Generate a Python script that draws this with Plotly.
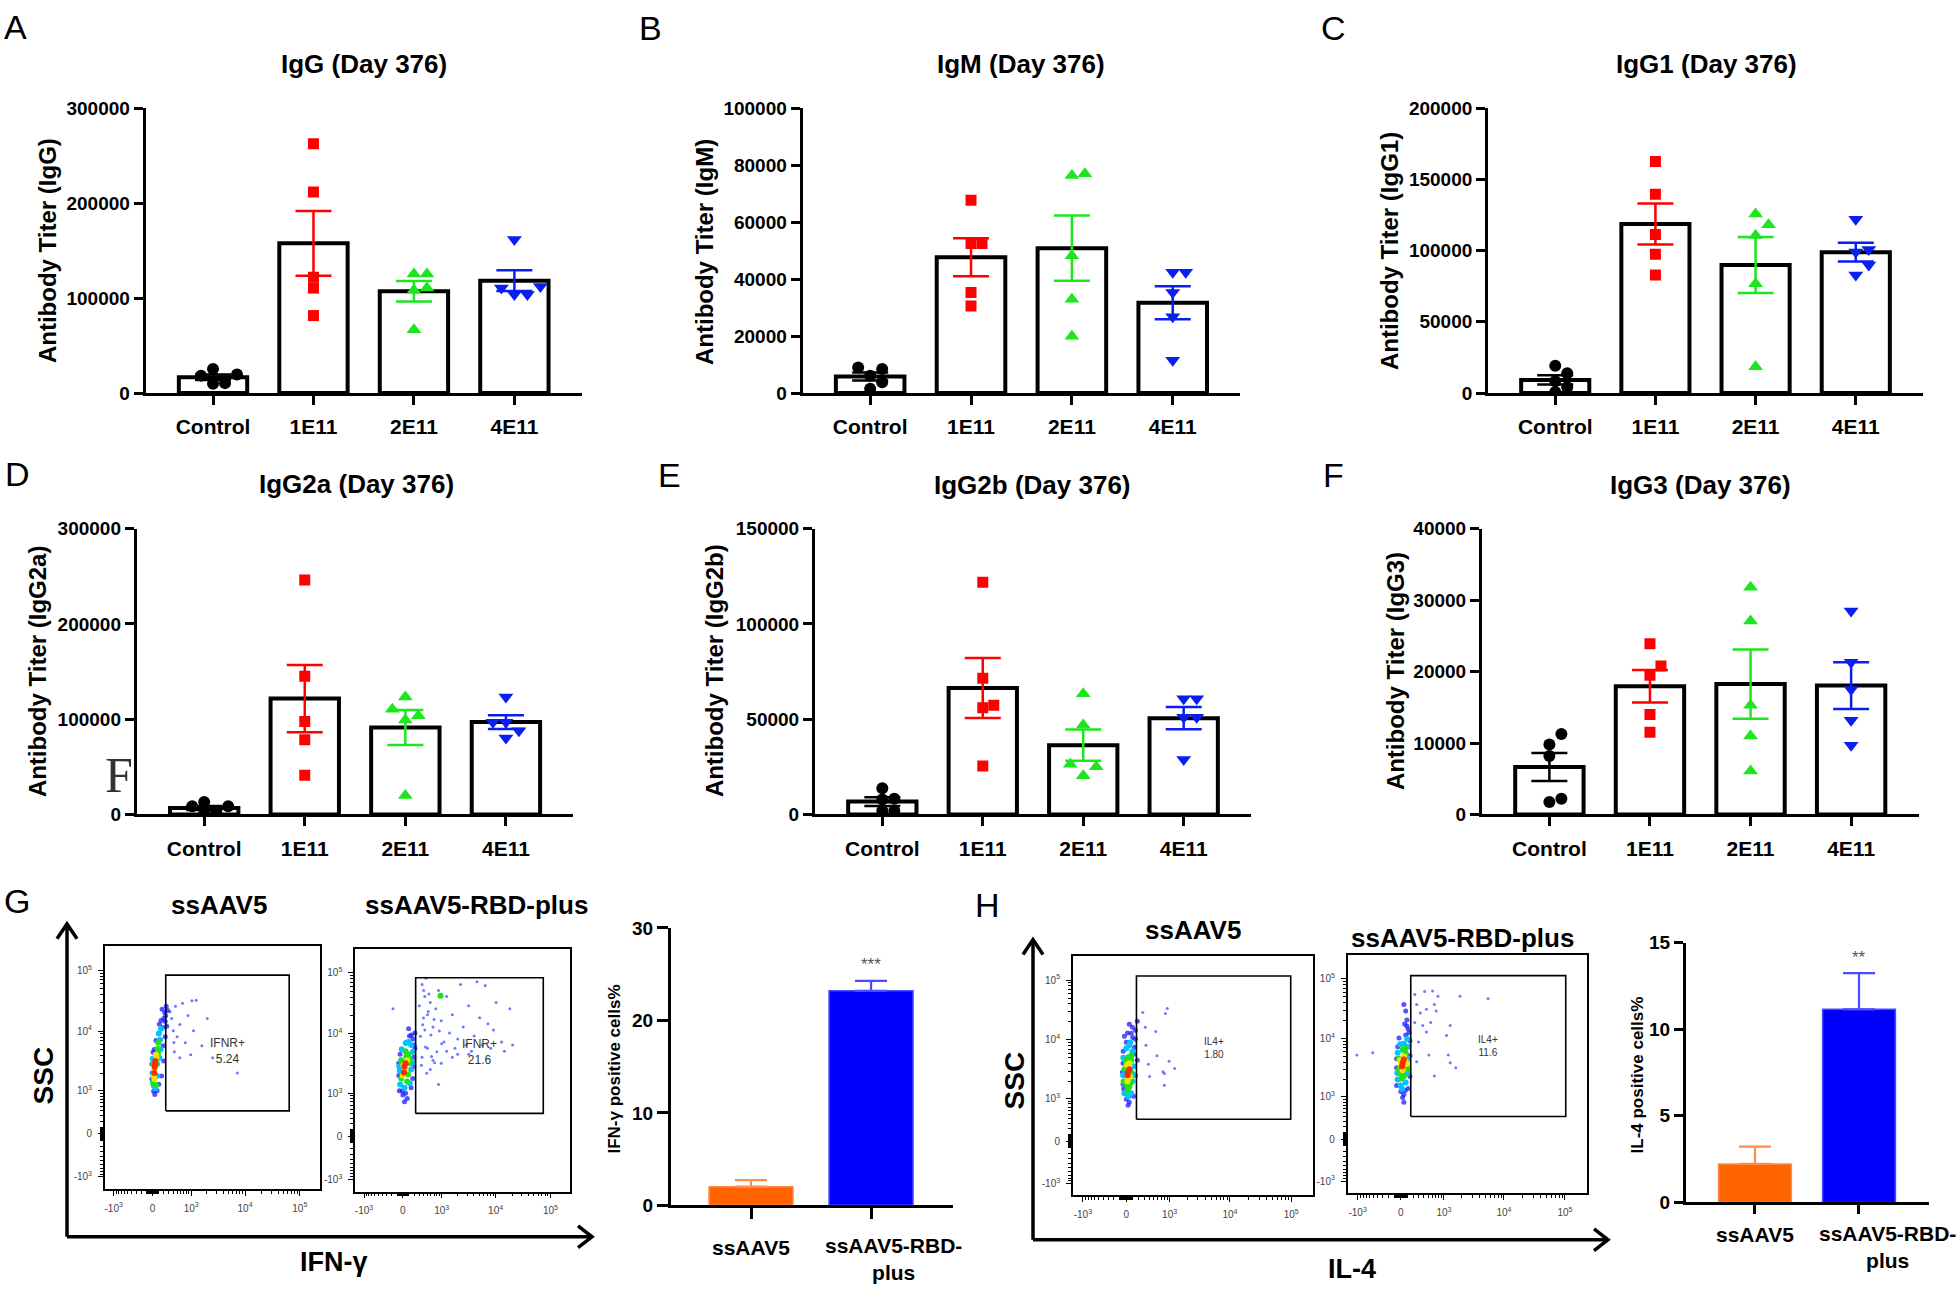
import numpy as np
import plotly.graph_objects as go

# ---------------- data ----------------
categories = ["Control", "1E11", "2E11", "4E11"]

igg_control = [25200, 19400, 9700, 10400, 18300]
igg_1e11 = [262700, 211900, 122000, 110600, 81600]
igg_2e11 = [125500, 125500, 110600, 108200, 66700]
igg_4e11 = [161800, 110600, 103700, 103700, 112300]

igm_control = [9000, 8400, 6100, 3800, 1500]
igm_1e11 = [67700, 52500, 52500, 35300, 30600]
igm_2e11 = [77000, 76400, 48200, 32900, 19900]
igm_4e11 = [42400, 42400, 35300, 26800, 11500]

igg1_control = [19100, 13800, 8300, 4100, 700]
igg1_1e11 = [162700, 139600, 111300, 97500, 82900]
igg1_2e11 = [125800, 118200, 110600, 76700, 18400]
igg1_4e11 = [122100, 100900, 99100, 89900, 82900]

igg2a_control = [13100, 8600, 2800, 1000, 8600]
igg2a_1e11 = [246300, 145000, 97500, 78500, 41300]
igg2a_2e11 = [123300, 110600, 103700, 99200, 20000]
igg2a_4e11 = [123300, 96800, 96800, 87800, 80300]

igg2b_control = [13800, 7800, 8300, 1900, 1900]
igg2b_1e11 = [121900, 71500, 57300, 56000, 25500]
igg2b_2e11 = [63400, 47000, 26300, 25000, 20300]
igg2b_4e11 = [60800, 60800, 51100, 51100, 28900]

igg3_control = [11250, 9780, 8180, 2200, 1750]
igg3_1e11 = [23900, 20800, 19500, 14000, 11500]
igg3_2e11 = [31800, 27100, 15300, 11000, 6100]
igg3_4e11 = [28500, 21300, 17500, 13200, 9700]

bar_groups = ["ssAAV5", "ssAAV5-RBD-<br>plus"]
ifng_pct = [2.02, 23.2]
ifng_err = [0.71, 1.07]
il4_pct = [2.22, 11.15]
il4_err = [1.0, 2.09]

flow_major = [-1000, 0, 1000, 10000, 100000]
flow_major_text = ["-10<sup>3</sup>", "0", "10<sup>3</sup>", "10<sup>4</sup>", "10<sup>5</sup>"]

# flow events: (marker intensity, SSC, density level; -1 = sparse event)
g1_events = [(40, 2550, 4), (50, 3220, 4), (30, 2020, 4), (45, 2868, 4),
             (60, 4060, 3), (20, 1795, 3), (70, 3619, 3), (25, 2300, 3), (35, 1600, 3),
             (90, 5120, 2), (10, 1416, 2), (80, 2868, 2), (15, 2868, 2), (100, 6450, 2), (60, 1250, 2),
             (95, 4200, 2),
             (130, 7238, 1), (0, 2020, 1), (50, 1110, 1), (120, 3600, 1), (110, 9119, 1), (5, 3500, 1),
             (140, 5000, 1), (20, 1250, 1), (150, 11000, 1), (80, 1800, 1),
             (180, 11465, 0), (200, 16200, 0), (190, 5745, 0), (200, 3220, 0), (160, 1795, 0), (-10, 2868, 0),
             (-10, 1600, 0), (20, 979, 0), (40, 860, 0), (80, 1000, 0), (220, 20400, 0), (230, 14443, 0),
             (120, 13000, 0), (30, 5000, 0), (230, 8120, 0), (250, 25663, 0), (10, 4500, 0), (110, 1300, 0),
             (260, 12000, 0), (240, 18000, 0), (280, 22000, 0), (170, 23000, 0), (150, 15000, 0), (60, 7000, 0),
             (366, 16200, -1), (459, 25663, -1), (503, 8120, -1), (580, 12850, -1), (665, 28846, -1),
             (760, 6450, -1), (866, 18197, -1), (979, 4060, -1), (1110, 10200, -1), (1250, 32400, -1),
             (1600, 5745, -1), (2020, 16200, -1), (2550, 3619, -1), (580, 3619, -1), (7238, 2020, -1),
             (1032, 31620, -1), (431, 4561, -1), (404, 10200, -1), (330, 21000, -1), (420, 6500, -1)]

g2_events = [(28, 2868, 4), (47, 3220, 4), (19, 2272, 4),
             (76, 3619, 3), (0, 2020, 3), (47, 2550, 3), (10, 3000, 3),
             (95, 4561, 2), (-28, 1795, 2), (76, 1600, 2), (114, 3220, 2), (-28, 3619, 2), (47, 5120, 2),
             (120, 3800, 2), (60, 4200, 2), (90, 2100, 2), (950, 42000, 2),
             (144, 6450, 1), (-47, 1416, 1), (28, 1250, 1), (144, 2550, 1), (-60, 2868, 1), (95, 7238, 1),
             (50, 7000, 1), (180, 5000, 1), (-20, 5500, 1), (-50, 2400, 1), (170, 3300, 1), (120, 1500, 1),
             (174, 8120, 0), (195, 4060, 0), (174, 1795, 0), (-70, 2020, 0), (-60, 1110, 0), (0, 934, 0),
             (76, 802, 0), (28, 700, 0), (216, 5745, 0), (-47, 4561, 0), (114, 9119, 0), (47, 1000, 0),
             (195, 2868, 0), (-70, 3220, 0), (144, 1250, 0), (216, 10200, 0), (150, 9500, 0),
             (100, 12000, 0), (200, 6500, 0), (-10, 1100, 0),
             (305, 28846, -1), (366, 64500, -1), (404, 51200, -1), (431, 40718, -1), (459, 81200, -1),
             (503, 20400, -1), (580, 32400, -1), (665, 12850, -1), (760, 25663, -1), (866, 51200, -1),
             (979, 16200, -1), (1110, 7238, -1), (1250, 40718, -1), (1416, 10200, -1), (1600, 20400, -1),
             (1795, 5745, -1), (2020, 8120, -1), (2272, 64500, -1), (2550, 12850, -1), (2868, 6450, -1),
             (3220, 28846, -1), (3619, 5120, -1), (4060, 9119, -1), (4561, 71000, -1), (5120, 18197, -1),
             (5745, 6450, -1), (6450, 62000, -1), (7238, 14443, -1), (8120, 5745, -1), (9119, 11465, -1),
             (10200, 32400, -1), (12850, 7238, -1), (14443, 5120, -1), (18197, 25663, -1), (20400, 6450, -1),
             (366, 4060, -1), (503, 5745, -1), (431, 11465, -1), (665, 3619, -1), (866, 1416, -1),
             (580, 2550, -1), (979, 3220, -1), (1250, 5120, -1), (1600, 4060, -1), (2020, 4561, -1),
             (3220, 4561, -1), (-174, 25663, -1), (330, 9000, -1), (380, 14000, -1), (450, 6000, -1),
             (520, 23000, -1), (600, 9500, -1), (700, 17000, -1), (800, 5000, -1), (900, 11000, -1),
             (350, 3000, -1), (480, 2200, -1), (620, 4200, -1), (1000, 6800, -1), (400, 18000, -1),
             (540, 45000, -1), (720, 3300, -1)]

h1_events = [(28, 2868, 4), (19, 2550, 4), (47, 3220, 4),
             (28, 2272, 3), (47, 3619, 3), (19, 2020, 3), (47, 4060, 3), (10, 3800, 3), (60, 2400, 3),
             (76, 4561, 2), (0, 1795, 2), (47, 1600, 2), (76, 2868, 2), (-28, 3220, 2), (28, 5120, 2),
             (19, 1416, 2), (80, 5500, 2), (-10, 4500, 2), (-40, 2000, 2), (70, 1900, 2),
             (95, 6450, 1), (-47, 2550, 1), (76, 1250, 1), (114, 3619, 1), (0, 7238, 1), (-28, 1250, 1),
             (47, 8120, 1), (95, 2020, 1), (60, 9000, 1), (-45, 5000, 1), (110, 2600, 1), (30, 1100, 1),
             (144, 10200, 0), (114, 5745, 0), (-50, 4060, 0), (-50, 1795, 0), (0, 979, 0), (47, 866, 0),
             (76, 12850, 0), (144, 14443, 0), (-47, 6450, 0), (144, 2550, 0), (28, 760, 0), (95, 16200, 0),
             (174, 20400, 0), (-28, 11465, 0), (174, 4561, 0), (114, 1110, 0), (47, 18197, 0), (-60, 2868, 0),
             (0, 9119, 0), (100, 11000, 0), (20, 13000, 0), (130, 7500, 0), (-40, 1500, 0),
             (317, 16200, -1), (330, 8120, -1), (380, 3900, -1), (404, 2430, -1), (550, 13800, -1),
             (580, 5400, -1), (802, 2740, -1), (840, 27500, -1), (910, 33500, -1), (979, 4400, -1),
             (802, 1720, -1), (1220, 3300, -1), (760, 2930, -1), (270, 28800, -1)]

h2_events = [(28, 3900, 4), (19, 3400, 4), (47, 4400, 4),
             (28, 2900, 3), (47, 5000, 3), (0, 3600, 3), (76, 4060, 3), (90, 3700, 3), (-10, 4300, 3),
             (76, 5745, 2), (0, 2550, 2), (47, 2272, 2), (-28, 4561, 2), (95, 3220, 2), (28, 6450, 2),
             (-28, 3000, 2), (60, 6800, 2), (10, 2100, 2), (120, 3000, 2),
             (114, 7238, 1), (-47, 2020, 1), (76, 1795, 1), (114, 4561, 1), (0, 1600, 1), (47, 8120, 1),
             (-47, 5745, 1), (95, 2550, 1), (100, 9800, 1), (-10, 8000, 1), (-55, 2600, 1), (20, 1400, 1),
             (144, 9119, 0), (144, 5120, 0), (-65, 3220, 0), (-65, 1600, 0), (0, 1250, 0), (47, 1110, 0),
             (76, 11465, 0), (114, 14443, 0), (28, 979, 0), (-47, 7238, 0), (144, 2272, 0), (95, 20400, 0),
             (76, 28846, 0), (47, 37100, 0), (-28, 10200, 0), (114, 1416, 0), (-65, 4561, 0), (47, 800, 0),
             (95, 16200, 0), (130, 12500, 0), (60, 17500, 0), (70, 1300, 0),
             (-1032, 5240, -1), (-518, 5745, -1),
             (226, 54700, -1), (418, 61600, -1), (615, 62800, -1), (780, 51200, -1), (459, 30900, -1),
             (665, 37100, -1), (329, 26900, -1), (226, 18600, -1), (565, 18600, -1), (1285, 16560, -1),
             (1881, 51200, -1), (5484, 46700, -1), (1110, 11200, -1), (293, 8700, -1), (518, 5240, -1),
             (1285, 3880, -1), (665, 2330, -1), (259, 4060, -1), (459, 12850, -1), (259, 37100, -1),
             (722, 28800, -1), (380, 16560, -1), (1191, 5240, -1), (1600, 3220, -1)]

g1_gate = ([240, 64000], [400, 84000])
g2_gate = ([230, 74000], [400, 83000])
h1_gate = ([160, 98000], [384, 117000])
h2_gate = ([157, 103000], [403, 113500])
ifn_gate_pct = ["5.24", "21.6"]
il4_gate_pct = ["1.80", "11.6"]

# ---------------- helpers ----------------
W, H = 1960, 1297
FONT = "Liberation Sans, Arial, Helvetica, sans-serif"
SERIF = "Liberation Serif, Times New Roman, serif"


def fnt(size, weight="normal", color="black", family=FONT):
    return dict(family=family, size=size, color=color, weight=weight)


fig = go.Figure()
annotations, shapes, axes_layout = [], [], {}
counter = [0]


def new_axes(xd, yd, xcfg, ycfg):
    counter[0] += 1
    s = "" if counter[0] == 1 else str(counter[0])
    axes_layout["xaxis" + s] = dict(domain=[xd[0] / W, xd[1] / W], anchor="y" + s, **xcfg)
    axes_layout["yaxis" + s] = dict(domain=[1 - yd[1] / H, 1 - yd[0] / H], anchor="x" + s, **ycfg)
    return "x" + s, "y" + s


def text(x, y, s, font, angle=0):
    annotations.append(dict(x=x / W, y=1 - y / H, xref="paper", yref="paper", text=s, showarrow=False,
                            font=font, textangle=angle, xanchor="center", yanchor="middle"))


def swarm(vals, ppu_y, diam):
    vals = np.asarray(vals, float)
    order = np.argsort(vals, kind="stable")
    placed, offs = [], np.zeros(len(vals))
    cands = [0.0]
    for j in range(1, 8):
        cands += [j * diam, -j * diam]
    for idx in order:
        yp = vals[idx] * ppu_y
        for c in cands:
            if all((c - a) ** 2 + (yp - b) ** 2 >= (0.9 * diam) ** 2 for a, b in placed):
                break
        placed.append((c, yp))
        offs[idx] = c
    return offs


GROUP_STYLE = [("circle", "#000000", 12), ("square", "#ff0000", 11),
               ("triangle-up", "#1ee61e", 13), ("triangle-down", "#0a1ef0", 13)]


def dot_panel(groups, ymax, dtick, xd, yd):
    xr = [-0.67, 3.67]
    common = dict(showline=True, linecolor="black", linewidth=3, ticks="outside", ticklen=9, tickwidth=3,
                  tickcolor="black", showgrid=False, zeroline=False)
    xcfg = dict(range=xr, tickmode="array", tickvals=[0, 1, 2, 3], ticktext=categories,
                ticklabelstandoff=4, tickangle=0, tickfont=fnt(21, "bold"), **common)
    ycfg = dict(range=[0, ymax], tickmode="linear", tick0=0, dtick=dtick, tickformat="d",
                tickfont=fnt(19, "bold"), **common)
    xa, ya = new_axes(xd, yd, xcfg, ycfg)
    means = [float(np.mean(g)) for g in groups]
    sems = [float(np.std(g, ddof=1) / np.sqrt(len(g))) for g in groups]
    fig.add_trace(go.Bar(x=[0, 1, 2, 3], y=means, width=0.68,
                         marker=dict(color="white", line=dict(color="black", width=4)),
                         xaxis=xa, yaxis=ya, hoverinfo="skip"))
    ppu_y = (yd[1] - yd[0]) / ymax
    ppu_x = (xd[1] - xd[0]) / (xr[1] - xr[0])
    for i, g in enumerate(groups):
        sym, col, sz = GROUP_STYLE[i]
        fig.add_trace(go.Scatter(x=[i], y=[means[i]], mode="markers",
                                 marker=dict(size=1, color="rgba(0,0,0,0)"),
                                 error_y=dict(type="data", array=[sems[i]], symmetric=True, color=col,
                                              thickness=2.5, width=18),
                                 xaxis=xa, yaxis=ya, hoverinfo="skip"))
        offs = swarm(g, ppu_y, sz)
        fig.add_trace(go.Scatter(x=[i + o / ppu_x for o in offs], y=g, mode="markers",
                                 marker=dict(symbol=sym, size=sz, color=col, line=dict(width=0)),
                                 xaxis=xa, yaxis=ya))


C_BIEX = 408.0


def biex(v):
    return np.arcsinh(np.asarray(v, float) / C_BIEX) / np.log(10)


flow_minor = ([k * 10 ** n for n in (1, 2, 3, 4) for k in range(2, 10)] +
              [-k * 10 ** n for n in (1, 2) for k in range(2, 10)] + [10, 100, -10, -100])

LEVEL_STYLE = {-1: ("#3d4dff", 3), 0: ("#1a1aff", 5), 1: ("#00c3ff", 6),
               2: ("#20e020", 6), 3: ("#f2e600", 6), 4: ("#ff2a00", 6)}


def flow_panel(events, gate, label, xd, yd, label_dy, label_size):
    common = dict(ticks="outside", ticklen=5, tickwidth=1.3, tickcolor="black", showline=True,
                  linecolor="black", linewidth=1.6, mirror=True, tickfont=fnt(10, color="#444"),
                  showgrid=False, zeroline=False, tickmode="array", tickangle=0,
                  tickvals=list(biex(flow_major)), ticktext=flow_major_text, ticklabelstandoff=4,
                  minor=dict(tickmode="array", tickvals=list(biex(flow_minor)), ticks="outside",
                             ticklen=3, tickwidth=1, tickcolor="black"))
    xa, ya = new_axes(xd, yd, dict(range=[-0.87, 3.05], **common), dict(range=[-0.91, 3.09], **common))
    for lvl in (-1, 0, 1, 2, 3, 4):
        pts = [(e[0], e[1]) for e in events if e[2] == lvl]
        if not pts:
            continue
        col, sz = LEVEL_STYLE[lvl]
        fig.add_trace(go.Scatter(x=biex([p[0] for p in pts]), y=biex([p[1] for p in pts]), mode="markers",
                                 marker=dict(size=sz, color=col, line=dict(width=0),
                                             opacity=0.75 if lvl < 1 else 1.0),
                                 xaxis=xa, yaxis=ya))
    gx, gy = gate
    fig.add_trace(go.Scatter(x=biex([gx[0], gx[1], gx[1], gx[0], gx[0]]),
                             y=biex([gy[0], gy[0], gy[1], gy[1], gy[0]]),
                             mode="lines", line=dict(color="black", width=1.6), xaxis=xa, yaxis=ya))
    cx = float(np.mean(biex(gx)))
    cy = float(np.mean(biex(gy))) + label_dy
    annotations.append(dict(x=cx, y=cy, xref=xa, yref=ya, text=label, showarrow=False,
                            font=fnt(label_size, color="#333"), align="center"))


def pct_panel(vals, errs, ymax, dtick, xd, yd, xr, ticklen, stars, label_pos):
    common = dict(showline=True, linecolor="black", linewidth=3, ticks="outside", ticklen=ticklen,
                  tickwidth=3, tickcolor="black", tickfont=fnt(19, "bold"), showgrid=False, zeroline=False)
    xcfg = dict(range=xr, tickmode="array", tickvals=[0, 1], showticklabels=False, **common)
    ycfg = dict(range=[0, ymax], tickmode="linear", tick0=0, dtick=dtick, **common)
    xa, ya = new_axes(xd, yd, xcfg, ycfg)
    fills = ["#ff6400", "#0000ff"]
    edges = ["#ff8c4a", "#4a4aff"]
    fig.add_trace(go.Bar(x=[0, 1], y=vals, width=0.7,
                         marker=dict(color=fills, line=dict(color=edges, width=1.5)),
                         xaxis=xa, yaxis=ya, hoverinfo="skip"))
    for i in range(2):
        fig.add_trace(go.Scatter(x=[i], y=[vals[i]], mode="markers",
                                 marker=dict(size=1, color="rgba(0,0,0,0)"),
                                 error_y=dict(type="data", symmetric=False, array=[errs[i]], arrayminus=[0],
                                              color=edges[i], thickness=2.2, width=16),
                                 xaxis=xa, yaxis=ya, hoverinfo="skip"))
    annotations.append(dict(x=1, y=vals[1] + errs[1], xref=xa, yref=ya, text=stars, showarrow=False,
                            yshift=16, font=fnt(17, color="#555")))
    for name, (lx, ly) in zip(bar_groups, label_pos):
        text(lx, ly, name, fnt(21, "bold"))


def seg(x0, y0, x1, y1, w=3.5):
    shapes.append(dict(type="line", xref="paper", yref="paper", x0=x0 / W, y0=1 - y0 / H,
                       x1=x1 / W, y1=1 - y1 / H, line=dict(color="black", width=w)))


def chevron(pts, w=3.5):
    p = "M " + " L ".join(f"{x / W:.5f},{1 - y / H:.5f}" for x, y in pts)
    shapes.append(dict(type="path", xref="paper", yref="paper", path=p, line=dict(color="black", width=w)))


# ---------------- panels A-F ----------------
dot_panels = [
    ("A", "IgG (Day 376)", "Antibody Titer (IgG)", [igg_control, igg_1e11, igg_2e11, igg_4e11], 300000, 100000,
     (145.7, 581.7), (100, 389.3), (15, 17), (364, 55), (47, 245)),
    ("B", "IgM (Day 376)", "Antibody Titer (IgM)", [igm_control, igm_1e11, igm_2e11, igm_4e11], 100000, 20000,
     (802.6, 1240.3), (100, 389.3), (650, 18), (1021, 55), (704, 246)),
    ("C", "IgG1 (Day 376)", "Antibody Titer (IgG1)", [igg1_control, igg1_1e11, igg1_2e11, igg1_4e11], 200000, 50000,
     (1488.1, 1922.9), (100, 389.3), (1333, 18), (1706, 55), (1389, 245)),
    ("D", "IgG2a (Day 376)", "Antibody Titer (IgG2a)", [igg2a_control, igg2a_1e11, igg2a_2e11, igg2a_4e11], 300000,
     100000, (136.8, 573.3), (527.3, 817.7), (17, 472), (356, 482), (37, 672)),
    ("E", "IgG2b (Day 376)", "Antibody Titer (IgG2b)", [igg2b_control, igg2b_1e11, igg2b_2e11, igg2b_4e11], 150000,
     50000, (815, 1251), (527.3, 817.7), (669, 473), (1032, 483), (714, 672)),
    ("F", "IgG3 (Day 376)", "Antibody Titer (IgG3)", [igg3_control, igg3_1e11, igg3_2e11, igg3_4e11], 40000, 10000,
     (1482, 1918.5), (527.3, 817.7), (1333, 473), (1700, 483), (1395, 672)),
]
for letter, title, ytitle, groups, ymax, dtick, xd, yd, lxy, txy, yxy in dot_panels:
    dot_panel(groups, ymax, dtick, xd, yd)
    text(*lxy, letter, fnt(34))
    text(*txy, title, fnt(26, "bold"))
    text(*yxy, ytitle, fnt(24, "bold"), angle=-90)

# stray glyph visible in the source figure
text(119, 778, "F", fnt(50, color="#333", family=SERIF))

# ---------------- panel G ----------------
text(17, 906, "G", fnt(34))
flow_panel(g1_events, g1_gate, "IFNR+<br>" + ifn_gate_pct[0], (104.8, 319.5), (951.7, 1198.3), -0.13, 12)
flow_panel(g2_events, g2_gate, "IFNR+<br>" + ifn_gate_pct[1], (355.1, 570.2), (954, 1201), -0.1, 12)
text(219, 910, "ssAAV5", fnt(26, "bold"))
text(476, 910, "ssAAV5-RBD-plus", fnt(26, "bold"))
text(43, 1083, "SSC", fnt(28, "bold"), angle=-90)
text(334, 1273, "IFN-γ", fnt(27, "bold"))
seg(67, 1247, 67, 929)
seg(67, 1247, 591, 1247)
chevron([(57, 944), (67, 929), (77, 944)])
chevron([(578, 1236), (592, 1247), (578, 1258)])
pct_panel(ifng_pct, ifng_err, 30, 10, (671, 953), (933, 1215), [-0.667, 1.683], 11, "***",
          [(751, 1258), (893, 1270)])
text(615, 1077, "IFN-γ positive cells%", fnt(17, "bold"), angle=-90)

# ---------------- panel H ----------------
text(987, 910, "H", fnt(34))
flow_panel(h1_events, h1_gate, "IL4+<br>" + il4_gate_pct[0], (1072.9, 1313.3), (961.7, 1205), 0.0, 10)
flow_panel(h2_events, h2_gate, "IL4+<br>" + il4_gate_pct[1], (1347.7, 1586.9), (960.7, 1202.7), 0.0, 10)
text(1193, 935, "ssAAV5", fnt(26, "bold"))
text(1462, 943, "ssAAV5-RBD-plus", fnt(26, "bold"))
text(1014, 1088, "SSC", fnt(28, "bold"), angle=-90)
text(1352, 1280, "IL-4", fnt(27, "bold"))
seg(1033, 1250, 1033, 945)
seg(1033, 1250, 1607, 1250)
chevron([(1023, 960), (1033, 945), (1043, 960)])
chevron([(1594, 1239), (1608, 1250), (1594, 1261)])
pct_panel(il4_pct, il4_err, 15, 5, (1686, 1929), (948, 1212), [-0.663, 1.673], 9, "**",
          [(1755, 1245), (1887, 1257)])
text(1637, 1083, "IL-4 positive cells%", fnt(17, "bold"), angle=-90)

fig.update_layout(width=W, height=H, margin=dict(l=0, r=0, t=0, b=0), paper_bgcolor="white",
                  plot_bgcolor="white", showlegend=False, annotations=annotations, shapes=shapes,
                  **axes_layout)
fig.write_html("out.html", config={"displayModeBar": False},
               post_script="document.body.style.margin='0px';")
